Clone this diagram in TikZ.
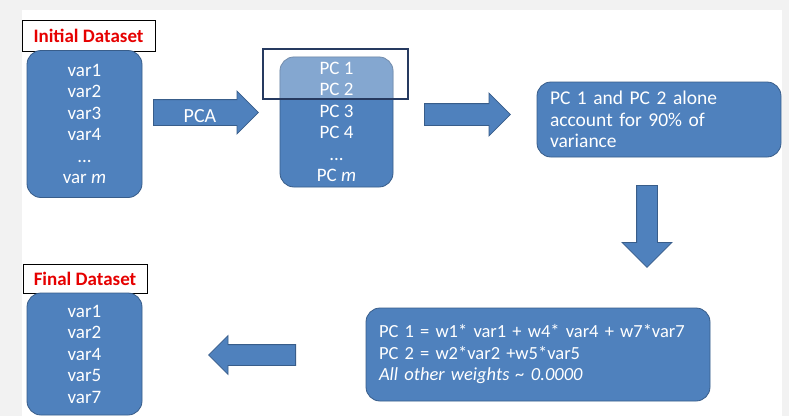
\documentclass[tikz,border=0pt]{standalone}
\usepackage{fontspec}
\setmainfont{Carlito}
\usetikzlibrary{shapes.arrows}
\usetikzlibrary{positioning}
\definecolor{bleu}{RGB}{79,129,189}
\definecolor{bordbleu}{RGB}{56,93,138}
\definecolor{cadrebleu}{RGB}{38,58,96}
\definecolor{rougetitre}{RGB}{230,0,0}
\definecolor{fondgris}{RGB}{242,242,242}

\begin{document}
\begin{tikzpicture}[x=1pt,y=-1pt]
% définition des paramètres
\tikzstyle boitevar=[draw=bordbleu,fill=bleu,line width=0.8pt,rounded corners=14pt,text=white,align=center,inner sep=0pt,font=\fontsize{19}{21.5}\selectfont]
\tikzstyle boitetexte=[draw=bordbleu,fill=bleu,line width=0.8pt,rounded corners=14pt,text=white,align=left,inner sep=0pt]
\tikzstyle etiquette=[draw=black,fill=white,line width=0.8pt,text=rougetitre,inner sep=0pt,font=\fontsize{19}{21}\selectfont\bfseries]
\tikzstyle fleche=[single arrow,draw=bordbleu,fill=bleu,line width=0.8pt,inner sep=0pt,anchor=tail]
\tikzstyle textefleche=[text=white,inner sep=0pt,font=\fontsize{20}{22}\selectfont]
\tikzstyle cadrepc=[draw=cadrebleu,line width=1.2pt,inner sep=0pt]

% le fond
\fill[fondgris] (0,0) rectangle (789,416);
\fill[white] (22,10) rectangle (782,416);

% le jeu de départ
\node[etiquette,minimum width=133pt,minimum height=31pt] (initlab) at (88.5,36) {Initial Dataset};
\node[boitevar,minimum width=115pt,minimum height=147pt] (init) at (84.5,124) {var1\\var2\\var3\\var4\\...\\var \textit{m}};

% la flèche PCA
\node[fleche,minimum height=105pt,text height=12.5pt,text depth=12.5pt,single arrow head extend=8.5pt] (flpca) at (153,112.5) {};
\node[textefleche] (pca) at (200,116) {PCA};

% les composantes
\node[boitevar,minimum width=113pt,minimum height=130pt] (pcs) at (336.5,122) {PC 1\\PC 2\\PC 3\\PC 4\\...\\PC \textit{m}};
\begin{scope}
\clip (263,49) rectangle (408,99);
\fill[white,fill opacity=0.3,rounded corners=14pt] (pcs.north west) rectangle (pcs.south east);
\end{scope}
\node[cadrepc,minimum width=145pt,minimum height=50pt] (sel) at (335.5,74) {};

% flèche vers la variance
\node[fleche,minimum height=86pt,text height=10.5pt,text depth=10.5pt,single arrow head extend=10.5pt] (flvar) at (424,114.5) {};
\node[boitetexte,minimum width=244pt,minimum height=75pt,text width=218pt,font=\fontsize{19.5}{21.5}\selectfont] (variance) at (659,119.5) {PC 1 and PC 2 alone\\account for 90\% of\\variance};

% flèche vers le bas
\node[fleche,rotate=270,minimum height=82pt,text height=10pt,text depth=10pt,single arrow head extend=14.5pt] (flbas) at (647,185) {};

% les poids
\node[boitetexte,minimum width=344pt,minimum height=93pt,text width=318pt,font=\fontsize{18.5}{21.5}\selectfont] (poids) at (538,354.5) {PC 1 = w1* var1 + w4* var4 + w7*var7\\PC 2 = w2*var2 +w5*var5\\\textit{All other weights \textasciitilde{} 0.0000}};

% flèche vers la gauche
\node[fleche,rotate=180,minimum height=87pt,text height=10pt,text depth=10pt,single arrow head extend=9pt] (flgauche) at (296,355) {};

% le jeu final
\node[etiquette,minimum width=124pt,minimum height=29pt] (finlab) at (85,278.5) {Final Dataset};
\node[boitevar,minimum width=115pt,minimum height=122pt] (final) at (84.5,354) {var1\\var2\\var4\\var5\\var7};
\end{tikzpicture}
\end{document}
